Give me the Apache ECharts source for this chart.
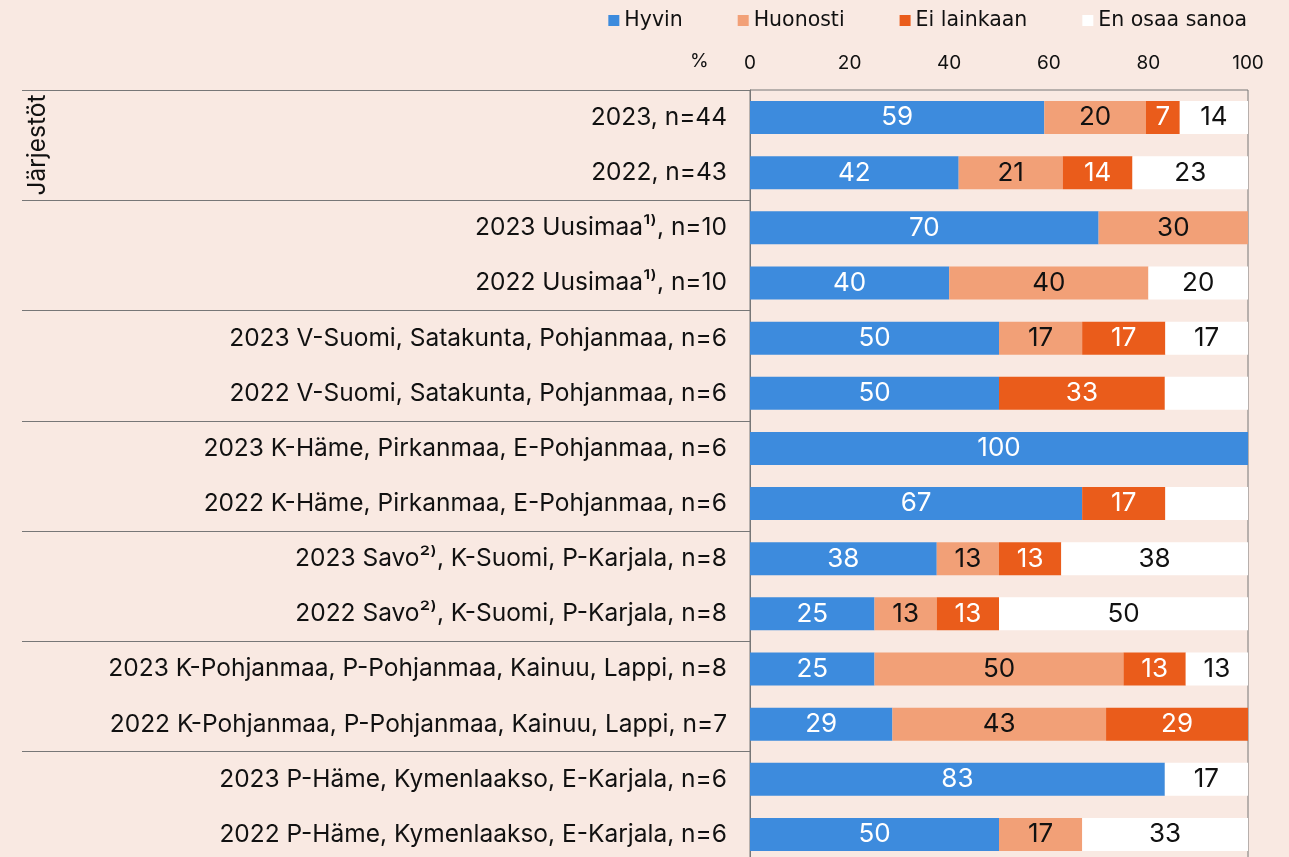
<!DOCTYPE html>
<html>
<head>
<meta charset="utf-8">
<script src="https://cdn.jsdelivr.net/npm/echarts@6/dist/echarts.min.js"></script>
<style>
  html, body { margin: 0; padding: 0; background: #f9e9e2; overflow: hidden; }
  #chart { width: 1289px; height: 870px; }
</style>
</head>
<body>
<div id="chart"></div>
<script>
const categories = [
  "2023, n=44",
  "2022, n=43",
  "2023 Uusimaa¹⁾, n=10",
  "2022 Uusimaa¹⁾, n=10",
  "2023 V-Suomi, Satakunta, Pohjanmaa, n=6",
  "2022 V-Suomi, Satakunta, Pohjanmaa, n=6",
  "2023 K-Häme, Pirkanmaa, E-Pohjanmaa, n=6",
  "2022 K-Häme, Pirkanmaa, E-Pohjanmaa, n=6",
  "2023 Savo²⁾, K-Suomi, P-Karjala, n=8",
  "2022 Savo²⁾, K-Suomi, P-Karjala, n=8",
  "2023 K-Pohjanmaa, P-Pohjanmaa, Kainuu, Lappi, n=8",
  "2022 K-Pohjanmaa, P-Pohjanmaa, Kainuu, Lappi, n=7",
  "2023 P-Häme, Kymenlaakso, E-Karjala, n=6",
  "2022 P-Häme, Kymenlaakso, E-Karjala, n=6",
];

const hyvin      = [59.1, 41.9, 70, 40, 50, 50, 100, 66.7, 37.5, 25, 25, 28.6, 83.3, 50];
const huonosti   = [20.4, 20.9, 30, 40, 16.7, 0, 0, 0, 12.5, 12.5, 50, 42.9, 0, 16.7];
const eiLainkaan = [6.8, 14.0, 0, 0, 16.7, 33.3, 0, 16.7, 12.5, 12.5, 12.5, 28.5, 0, 0];
const enOsaa     = [13.7, 23.2, 0, 20, 16.6, 16.7, 0, 16.6, 37.5, 50, 12.5, 0, 16.7, 33.3];

const xTicks = [0, 20, 40, 60, 80, 100];
const groupLabel = "Järjestöt";

// white segments in these rows have no value label in the original
const unlabeled = { 3: [5, 7] };

const FONT = "Inter, 'Noto Sans', sans-serif";
const LEGEND_FONT = "'DejaVu Sans', sans-serif";

function makeSeries(name, values, color, textColor, idx) {
  const skip = unlabeled[idx] || [];
  return {
    name,
    type: "bar",
    stack: "total",
    barWidth: 33,
    xAxisIndex: 0,
    yAxisIndex: 0,
    itemStyle: { color },
    data: values.map((v, i) => (skip.includes(i) ? { value: v, label: { show: false } } : v)),
    label: {
      show: true,
      position: "inside",
      color: textColor,
      fontSize: 26,
      fontFamily: FONT,
      formatter: (p) => (p.value > 0 ? String(Math.round(p.value)) : ""),
    },
  };
}

const chart = echarts.init(document.getElementById("chart"));

chart.setOption({
  backgroundColor: "#f9e9e2",
  animation: false,
  textStyle: { fontFamily: FONT },
  legend: {
    top: 5,
    right: 37,
    itemWidth: 11,
    itemHeight: 11,
    itemGap: 55,
    icon: "rect",
    textStyle: { fontSize: 20.5, color: "#111", fontFamily: LEGEND_FONT },
    data: ["Hyvin", "Huonosti", "Ei lainkaan", "En osaa sanoa"],
  },
  grid: [
    {
      left: 750, right: 41, top: 90, height: 772,
      show: true, borderColor: "#777", borderWidth: 1, backgroundColor: "transparent",
    },
    { left: 22, width: 728, top: 90, height: 772 },
  ],
  xAxis: [
    {
      gridIndex: 0,
      type: "value",
      position: "top",
      min: xTicks[0],
      max: xTicks[xTicks.length - 1],
      interval: xTicks[1] - xTicks[0],
      axisLine: { show: false },
      axisTick: { show: false },
      splitLine: { show: false },
      axisLabel: { fontSize: 19, color: "#111", margin: 17, fontFamily: FONT },
    },
    { gridIndex: 1, type: "value", show: false, min: 0, max: 1 },
  ],
  yAxis: [
    {
      gridIndex: 0,
      type: "category",
      inverse: true,
      data: categories,
      axisLine: { show: true, lineStyle: { color: "#777" } },
      axisTick: { show: false },
      axisLabel: { fontSize: 24.5, color: "#111", margin: 23, fontFamily: FONT },
    },
    {
      gridIndex: 1,
      type: "category",
      inverse: true,
      data: categories,
      axisLine: { show: false },
      axisTick: { show: false },
      axisLabel: { show: false },
      splitLine: {
        show: true,
        interval: (i) => i % 2 === 0,
        lineStyle: { color: "#777", width: 1 },
      },
    },
  ],
  graphic: [
    {
      type: "text",
      left: 690,
      top: 52,
      style: { text: "%", fill: "#111", font: "19px " + FONT },
    },
    {
      type: "text",
      x: 25,
      y: 145,
      rotation: Math.PI / 2,
      style: {
        text: groupLabel,
        font: "24.5px " + FONT,
        fill: "#111",
        align: "center",
        verticalAlign: "top",
      },
    },
  ],
  series: [
    makeSeries("Hyvin", hyvin, "#3d8bdd", "#fff", 0),
    makeSeries("Huonosti", huonosti, "#f2a077", "#111", 1),
    makeSeries("Ei lainkaan", eiLainkaan, "#ea5c1b", "#fff", 2),
    makeSeries("En osaa sanoa", enOsaa, "#ffffff", "#111", 3),
  ],
});
</script>
</body>
</html>
